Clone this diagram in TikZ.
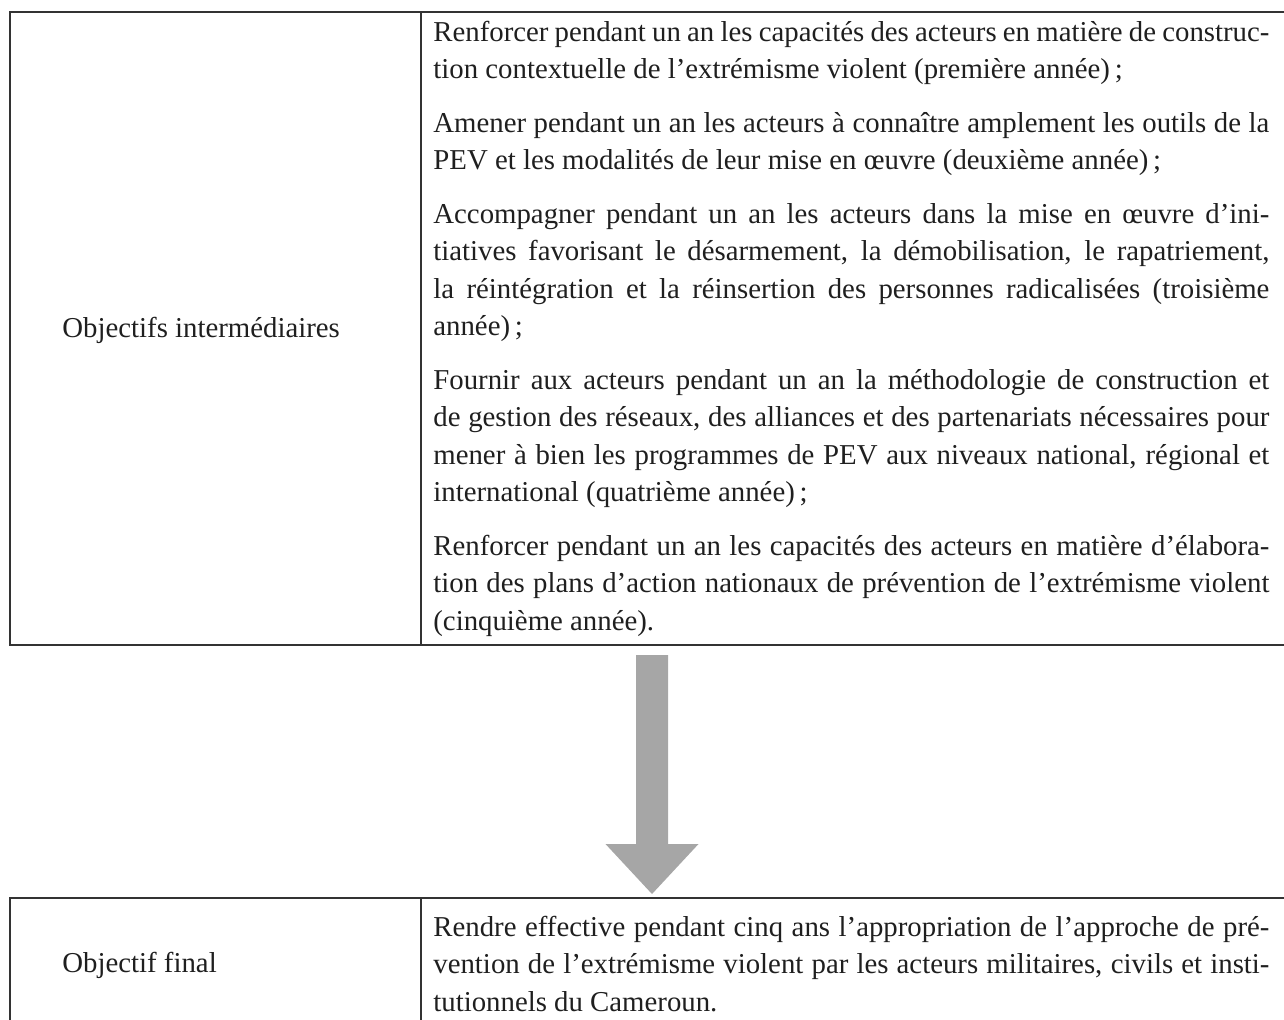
\documentclass[tikz,border=0pt]{standalone}
\usepackage{fontspec}
\setmainfont{Liberation Serif}
\usetikzlibrary{calc}
\begin{document}
\begin{tikzpicture}[x=0.5pt,y=-0.5pt,
  rule/.style={line width=0.8pt, draw=black!80},
  cell/.style={anchor=base west, inner sep=0pt, text width=418pt, align=justify,
    font=\fontsize{14.4}{18.75}\selectfont, text=black!88},
  lbl/.style={anchor=base west, inner sep=0pt, font=\fontsize{14.4}{18.75}\selectfont, text=black!88},
  bigarrow/.style={fill=black!35, draw=none}]
\useasboundingbox (0,0) rectangle (1284,1019);
% top table
\draw[rule] (1290,12) -- (10,12) -- (10,645) -- (1290,645);
\draw[rule] (421,12) -- (421,645);
\node[lbl] (inter) at (62,337) {Objectifs intermédiaires};
\node[cell] (p1) at (433,41) {Renforcer pendant un an les capacités des acteurs en matière de construc-\linebreak tion contextuelle de l’extrémisme violent (première année)\,;};
\node[cell] (p2) at (433,132) {Amener pendant un an les acteurs à connaître amplement les outils de la\linebreak PEV et les modalités de leur mise en œuvre (deuxième année)\,;};
\node[cell] (p3) at (433,223) {Accompagner pendant un an les acteurs dans la mise en œuvre d’ini-\linebreak tiatives favorisant le désarmement, la démobilisation, le rapatriement,\linebreak la réintégration et la réinsertion des personnes radicalisées (troisième\linebreak année)\,;};
\node[cell] (p4) at (433,389) {Fournir aux acteurs pendant un an la méthodologie de construction et\linebreak de gestion des réseaux, des alliances et des partenariats nécessaires pour\linebreak mener à bien les programmes de PEV aux niveaux national, régional et\linebreak international (quatrième année)\,;};
\node[cell] (p5) at (433,555) {Renforcer pendant un an les capacités des acteurs en matière d’élabora-\linebreak tion des plans d’action nationaux de prévention de l’extrémisme violent\linebreak (cinquième année).};
% arrow
\coordinate (arrowtop) at (652,655);
\coordinate (arrowtip) at (652,894);
\fill[bigarrow] ($(arrowtop)+(-16,0)$) -- ($(arrowtop)+(16,0)$) -- ($(arrowtip)+(16,-50)$)
  -- ($(arrowtip)+(46.5,-50)$) -- (arrowtip) -- ($(arrowtip)+(-46.5,-50)$)
  -- ($(arrowtip)+(-16,-50)$) -- cycle;
% bottom table
\draw[rule] (10,1030) -- (10,898) -- (1290,898);
\draw[rule] (421,898) -- (421,1030);
\node[lbl] (final) at (62,972) {Objectif final};
\node[cell] (pf) at (433,936) {Rendre effective pendant cinq ans l’appropriation de l’approche de pré-\linebreak vention de l’extrémisme violent par les acteurs militaires, civils et insti-\linebreak tutionnels du Cameroun.};
\end{tikzpicture}
\end{document}
